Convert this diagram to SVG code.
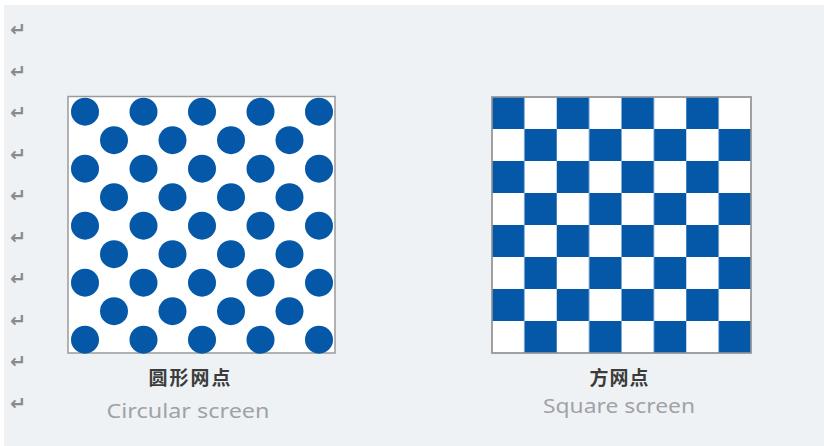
<svg xmlns="http://www.w3.org/2000/svg" width="824" height="446" viewBox="0 0 824 446">
<style>
.ret{font-family:"DejaVu Sans",sans-serif;font-size:19px;font-weight:bold;fill:#8a8a8a}
.cn{font-family:"Noto Sans CJK SC","Liberation Sans",sans-serif;font-size:19px;font-weight:600;fill:#3c3c3c;text-anchor:middle}
.en{font-family:"Noto Sans","Noto Sans CJK SC",sans-serif;font-size:20px;fill:#9fa2a6;text-anchor:middle}
.box{fill:#ffffff;stroke:#9a9a9a;stroke-width:1.5}
.dot{fill:#0558a8}
</style>
<defs>
<pattern id="chk" patternUnits="userSpaceOnUse" x="492" y="97" width="64.75" height="64">
<rect x="0" y="0" width="32.375" height="32" fill="#0558a8"/>
<rect x="32.375" y="32" width="32.375" height="32" fill="#0558a8"/>
</pattern>
</defs>
<rect x="0" y="0" width="824" height="446" fill="#ffffff"/>
<rect x="4" y="5" width="820" height="441" fill="#eff2f5"/>
<g id="returns">
<text class="ret" x="10" y="36">↵</text>
<text class="ret" x="10" y="77.5">↵</text>
<text class="ret" x="10" y="119">↵</text>
<text class="ret" x="10" y="160.5">↵</text>
<text class="ret" x="10" y="202">↵</text>
<text class="ret" x="10" y="243.5">↵</text>
<text class="ret" x="10" y="285">↵</text>
<text class="ret" x="10" y="326.5">↵</text>
<text class="ret" x="10" y="368">↵</text>
<text class="ret" x="10" y="409.5">↵</text>
</g>
<g id="circular-screen">
<rect class="box" x="68" y="96.5" width="267" height="256.5"/>
<g class="dot">
<circle cx="85" cy="111.7" r="14"/><circle cx="143.5" cy="111.7" r="14"/><circle cx="202" cy="111.7" r="14"/><circle cx="260.5" cy="111.7" r="14"/><circle cx="319" cy="111.7" r="14"/>
<circle cx="114" cy="140.2" r="14"/><circle cx="172.5" cy="140.2" r="14"/><circle cx="231" cy="140.2" r="14"/><circle cx="289.5" cy="140.2" r="14"/>
<circle cx="85" cy="168.7" r="14"/><circle cx="143.5" cy="168.7" r="14"/><circle cx="202" cy="168.7" r="14"/><circle cx="260.5" cy="168.7" r="14"/><circle cx="319" cy="168.7" r="14"/>
<circle cx="114" cy="197.2" r="14"/><circle cx="172.5" cy="197.2" r="14"/><circle cx="231" cy="197.2" r="14"/><circle cx="289.5" cy="197.2" r="14"/>
<circle cx="85" cy="225.7" r="14"/><circle cx="143.5" cy="225.7" r="14"/><circle cx="202" cy="225.7" r="14"/><circle cx="260.5" cy="225.7" r="14"/><circle cx="319" cy="225.7" r="14"/>
<circle cx="114" cy="254.2" r="14"/><circle cx="172.5" cy="254.2" r="14"/><circle cx="231" cy="254.2" r="14"/><circle cx="289.5" cy="254.2" r="14"/>
<circle cx="85" cy="282.7" r="14"/><circle cx="143.5" cy="282.7" r="14"/><circle cx="202" cy="282.7" r="14"/><circle cx="260.5" cy="282.7" r="14"/><circle cx="319" cy="282.7" r="14"/>
<circle cx="114" cy="311.2" r="14"/><circle cx="172.5" cy="311.2" r="14"/><circle cx="231" cy="311.2" r="14"/><circle cx="289.5" cy="311.2" r="14"/>
<circle cx="85" cy="339.7" r="14"/><circle cx="143.5" cy="339.7" r="14"/><circle cx="202" cy="339.7" r="14"/><circle cx="260.5" cy="339.7" r="14"/><circle cx="319" cy="339.7" r="14"/>
</g>
<text class="cn" x="190.5" y="385" letter-spacing="2">圆形网点</text>
<text class="en" x="188" y="418" textLength="163" lengthAdjust="spacingAndGlyphs">Circular screen</text>
</g>
<g id="square-screen">
<rect class="box" x="492" y="97" width="259" height="256"/>
<rect x="492" y="97" width="259" height="256" fill="url(#chk)"/>
<rect x="492" y="97" width="259" height="256" fill="none" stroke="#9a9a9a" stroke-width="1.5"/>
<text class="cn" x="619.5" y="385" letter-spacing="1">方网点</text>
<text class="en" x="619" y="413" textLength="152" lengthAdjust="spacingAndGlyphs">Square screen</text>
</g>
<g id="connectors"/>
</svg>
